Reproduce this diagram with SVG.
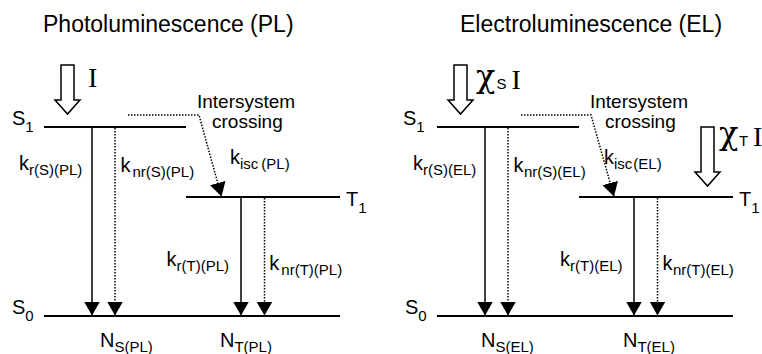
<svg xmlns="http://www.w3.org/2000/svg" width="762" height="354" viewBox="0 0 762 354">
<style>
text{font-family:"Liberation Sans",Arial,sans-serif;fill:#000}
.title{font-size:23px}
.lbl{font-size:20px}
.sub{font-size:15px}
.note{font-size:19px}
.serif{font-family:"Liberation Serif","Times New Roman",serif}
.chi{font-family:"DejaVu Serif","Liberation Serif",serif;font-size:32px}
.level{stroke:#000;stroke-width:2;fill:none}
.rad{stroke:#000;stroke-width:1.5;fill:none;marker-end:url(#ah)}
.nrad{stroke:#000;stroke-width:1.5;fill:none;stroke-dasharray:1.5 1.5;marker-end:url(#ah)}
.pump{fill:#fff;stroke:#000;stroke-width:1.5;stroke-linejoin:miter}
</style>
<defs>
<marker id="ah" markerUnits="userSpaceOnUse" markerWidth="14" markerHeight="16" viewBox="0 0 14 16" refX="14" refY="8" orient="auto">
<path d="M0,0 L14,8 L0,16 Z" fill="#000"/>
</marker>
</defs>
<rect width="762" height="354" fill="#fff"/>

<!-- Left panel: PL -->
<g id="title-pl"><text class="title" x="43" y="32">Photoluminescence (PL)</text></g>
<g id="pump-pl">
<path class="pump" d="M61,65 L74,65 L74,100 L80,100 L67.5,114 L55,100 L61,100 Z"/>
<text class="serif" x="88" y="87" font-size="28">I</text>
</g>
<g id="S1-pl">
<line class="level" x1="44" y1="127" x2="186" y2="127"/>
<text class="lbl" x="12" y="125">S<tspan class="sub" dy="7">1</tspan></text>
</g>
<g id="T1-pl">
<line class="level" x1="186" y1="197" x2="340" y2="197"/>
<text class="lbl" x="346" y="206">T<tspan class="sub" dy="7">1</tspan></text>
</g>
<g id="S0-pl">
<line class="level" x1="44" y1="316" x2="340" y2="316"/>
<text class="lbl" x="12" y="314">S<tspan class="sub" dy="7">0</tspan></text>
<text class="lbl" x="100" y="347">N<tspan class="sub" dy="5">S(PL)</tspan></text>
<text class="lbl" x="220" y="347">N<tspan class="sub" dy="5">T(PL)</tspan></text>
</g>
<g id="isc-label-pl">
<text class="note" x="197" y="108">Intersystem</text>
<text class="note" x="212" y="128">crossing</text>
</g>
<g id="rate-labels-pl">
<text class="lbl" x="19" y="170">k<tspan class="sub" dy="5">r(S)(PL)</tspan></text>
<text class="lbl" x="120.5" y="172">k<tspan class="sub" dx="2" dy="5">nr(S)(PL)</tspan></text>
<text class="lbl" x="230" y="164">k<tspan class="sub" dy="5">isc</tspan><tspan class="sub" dx="3">(PL)</tspan></text>
<text class="lbl" x="166.5" y="266">k<tspan class="sub" dy="5">r(T)(PL)</tspan></text>
<text class="lbl" x="269.3" y="270">k<tspan class="sub" dx="2" dy="5">nr(T)(PL)</tspan></text>
</g>

<!-- Right panel: EL -->
<g id="title-el"><text class="title" x="460" y="32">Electroluminescence (EL)</text></g>
<g id="pump-el-s">
<path class="pump" d="M454,65 L467,65 L467,100 L473,100 L460.5,114 L448,100 L454,100 Z"/>
<text class="chi" x="476" y="87">χ</text>
<text class="sub" x="496.5" y="89">S</text>
<text class="serif" x="511.5" y="89" font-size="28">I</text>
</g>
<g id="pump-el-t">
<path class="pump" d="M701,127 L714,127 L714,172 L720,172 L707.5,186 L695,172 L701,172 Z"/>
<text class="chi" x="719" y="144">χ</text>
<text class="sub" x="739" y="146">T</text>
<text class="serif" x="753" y="146" font-size="28">I</text>
</g>
<g id="S1-el">
<line class="level" x1="437" y1="127" x2="579" y2="127"/>
<text class="lbl" x="403" y="125">S<tspan class="sub" dy="7">1</tspan></text>
</g>
<g id="T1-el">
<line class="level" x1="579" y1="197" x2="733" y2="197"/>
<text class="lbl" x="739" y="206">T<tspan class="sub" dy="7">1</tspan></text>
</g>
<g id="S0-el">
<line class="level" x1="437" y1="316" x2="733" y2="316"/>
<text class="lbl" x="405" y="314">S<tspan class="sub" dy="7">0</tspan></text>
<text class="lbl" x="481" y="347">N<tspan class="sub" dy="5">S(EL)</tspan></text>
<text class="lbl" x="623" y="347">N<tspan class="sub" dy="5">T(EL)</tspan></text>
</g>
<g id="isc-label-el">
<text class="note" x="590" y="108">Intersystem</text>
<text class="note" x="605" y="128">crossing</text>
</g>
<g id="rate-labels-el">
<text class="lbl" x="413" y="170">k<tspan class="sub" dy="5">r(S)(EL)</tspan></text>
<text class="lbl" x="513.5" y="172">k<tspan class="sub" dx="0.5" dy="5">nr(S)(EL)</tspan></text>
<text class="lbl" x="604" y="163.5">k<tspan class="sub" dy="5">isc</tspan><tspan class="sub" dx="1">(EL)</tspan></text>
<text class="lbl" x="560" y="266">k<tspan class="sub" dy="5">r(T)(EL)</tspan></text>
<text class="lbl" x="662.5" y="270">k<tspan class="sub" dx="0.5" dy="5">nr(T)(EL)</tspan></text>
</g>

<g id="connectors">
<line class="rad" x1="92" y1="128" x2="92" y2="315.5"/>
<line class="nrad" x1="115" y1="128" x2="115" y2="315.5"/>
<line class="rad" x1="241" y1="198" x2="241" y2="315.5"/>
<line class="nrad" x1="264.5" y1="198" x2="264.5" y2="315.5"/>
<polyline class="nrad" points="128,115 199,115 221.5,196.5"/>
<line class="rad" x1="485" y1="128" x2="485" y2="315.5"/>
<line class="nrad" x1="508" y1="128" x2="508" y2="315.5"/>
<line class="rad" x1="634" y1="198" x2="634" y2="315.5"/>
<line class="nrad" x1="657.5" y1="198" x2="657.5" y2="315.5"/>
<polyline class="nrad" points="521,115 591,115 614,196.5"/>
</g>
</svg>
